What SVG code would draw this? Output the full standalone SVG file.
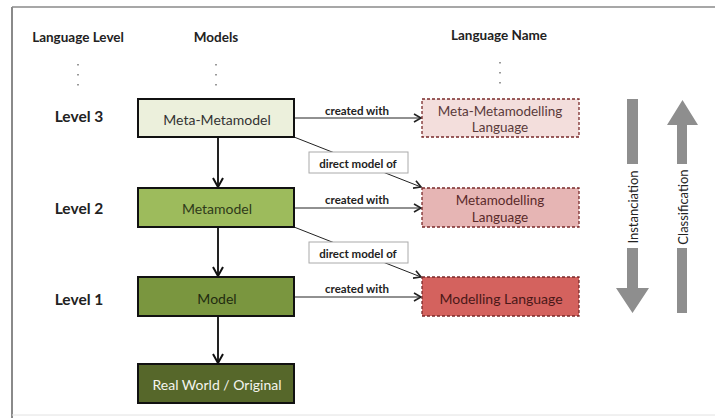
<svg xmlns="http://www.w3.org/2000/svg" width="715" height="418" viewBox="0 0 715 418">
<defs>
<style>
.t{font-family:Lato,"Open Sans","Liberation Sans",sans-serif;text-anchor:middle;dominant-baseline:central}
.hdr{font-size:13.5px;font-weight:bold;fill:#222}
.lvl{font-size:15.5px;font-weight:bold;fill:#222}
.box{font-size:14px;fill:#333}
.two{font-size:13.5px}
.lab{font-size:11.5px;font-weight:bold;fill:#222}
.rot{font-size:13px;fill:#222}
.mbox{stroke:#111;stroke-width:2}
.lbox{stroke:#7a2a2a;stroke-width:1.3;stroke-dasharray:3 2}
.dots{stroke:#999;stroke-width:2;stroke-dasharray:1.5 8.5}
.conn{fill:none;stroke:#222}
</style>
<marker id="oa" markerWidth="10" markerHeight="10" refX="8" refY="5" orient="auto" markerUnits="userSpaceOnUse">
<path d="M1,1 L8,5 L1,9" fill="none" stroke="#222" stroke-width="1.6"/>
</marker>
<marker id="va" markerWidth="12" markerHeight="12" refX="10" refY="6" orient="auto" markerUnits="userSpaceOnUse">
<path d="M1,1 L10,6 L1,11" fill="none" stroke="#111" stroke-width="2"/>
</marker>
</defs>
<rect width="715" height="418" fill="#fff"/>
<g id="frame">
<line x1="12" y1="7" x2="12" y2="418" stroke="#8a8a8a" stroke-width="2"/>
<line x1="12" y1="7" x2="715" y2="7" stroke="#8a8a8a" stroke-width="1.5"/>
<line x1="12" y1="415" x2="715" y2="415" stroke="#e2e2e2" stroke-width="1"/>
</g>
<g id="headers">
<text class="t hdr" x="78" y="37">Language Level</text>
<text class="t hdr" x="216" y="37">Models</text>
<text class="t hdr" x="499" y="35">Language Name</text>
<line class="dots" x1="78" y1="64" x2="78" y2="86"/>
<line class="dots" x1="216" y1="64" x2="216" y2="86"/>
<line class="dots" x1="500" y1="62" x2="500" y2="84"/>
</g>
<g id="levels">
<text class="t lvl" x="79" y="116">Level 3</text>
<text class="t lvl" x="79" y="208">Level 2</text>
<text class="t lvl" x="79" y="299">Level 1</text>
</g>
<g id="connectors">
<line class="conn" x1="218" y1="137" x2="218" y2="187" stroke-width="2" marker-end="url(#va)"/>
<line class="conn" x1="218" y1="227" x2="218" y2="276" stroke-width="2" marker-end="url(#va)"/>
<line class="conn" x1="218" y1="316" x2="218" y2="363" stroke-width="2" marker-end="url(#va)"/>
<line class="conn" x1="294" y1="118" x2="421" y2="118" stroke-width="1" marker-end="url(#oa)"/>
<line class="conn" x1="294" y1="208" x2="421" y2="208" stroke-width="1" marker-end="url(#oa)"/>
<line class="conn" x1="294" y1="297" x2="421" y2="297" stroke-width="1" marker-end="url(#oa)"/>
<line class="conn" x1="294" y1="137" x2="421" y2="187" stroke-width="1" marker-end="url(#oa)"/>
<line class="conn" x1="294" y1="227" x2="421" y2="277" stroke-width="1" marker-end="url(#oa)"/>
<text class="t lab" x="357" y="110">created with</text>
<text class="t lab" x="357" y="199">created with</text>
<text class="t lab" x="357" y="288">created with</text>
<g id="dm1">
<rect x="309" y="152" width="99" height="21" fill="#fff" stroke="#aaa" stroke-width="1"/>
<text class="t lab" x="358" y="163">direct model of</text>
</g>
<g id="dm2">
<rect x="309" y="242" width="99" height="21" fill="#fff" stroke="#aaa" stroke-width="1"/>
<text class="t lab" x="358" y="253">direct model of</text>
</g>
</g>
<g id="meta-metamodel">
<rect class="mbox" x="138" y="99" width="156" height="38" fill="#ECF0DC"/>
<text class="t box" x="217" y="119">Meta-Metamodel</text>
</g>
<g id="metamodel">
<rect class="mbox" x="138" y="188" width="156" height="39" fill="#9DBB5C"/>
<text class="t box" x="217" y="208" style="fill:#2f3a1a">Metamodel</text>
</g>
<g id="model">
<rect class="mbox" x="138" y="277" width="156" height="39" fill="#7A963F"/>
<text class="t box" x="217" y="298" style="fill:#222c10">Model</text>
</g>
<g id="real-world">
<rect class="mbox" x="138" y="364" width="156" height="39" fill="#56672A"/>
<text class="t box" x="217" y="384" style="fill:#f4f4ee">Real World / Original</text>
</g>
<g id="meta-metamodelling-language">
<rect class="lbox" x="422" y="99" width="157" height="38" fill="#F3DEDC"/>
<text class="t box two" x="500" y="110.5" style="fill:#5a3a3a">Meta-Metamodelling</text>
<text class="t box two" x="500" y="127" style="fill:#5a3a3a">Language</text>
</g>
<g id="metamodelling-language">
<rect class="lbox" x="422" y="188" width="157" height="39" fill="#E6B5B4"/>
<text class="t box two" x="500" y="200" style="fill:#5a2a2a">Metamodelling</text>
<text class="t box two" x="500" y="216.5" style="fill:#5a2a2a">Language</text>
</g>
<g id="modelling-language">
<rect class="lbox" x="422" y="277" width="157" height="39" fill="#D4625E"/>
<text class="t box" x="501" y="298" style="fill:#4a1818">Modelling Language</text>
</g>
<g id="instanciation">
<rect x="627" y="99" width="11" height="65" fill="#8E8E8E"/>
<path d="M627,248 L638,248 L638,288 L649,288 L632.5,313 L616,288 L627,288 Z" fill="#8E8E8E"/>
<text class="t rot" x="0" y="0" transform="translate(633,207) rotate(-90)">Instanciation</text>
</g>
<g id="classification">
<path d="M682.5,100 L698,125 L687,125 L687,164 L677,164 L677,125 L667,125 Z" fill="#8E8E8E"/>
<rect x="677" y="248" width="10" height="65" fill="#8E8E8E"/>
<text class="t rot" x="0" y="0" transform="translate(683,207) rotate(-90)">Classification</text>
</g>
</svg>
